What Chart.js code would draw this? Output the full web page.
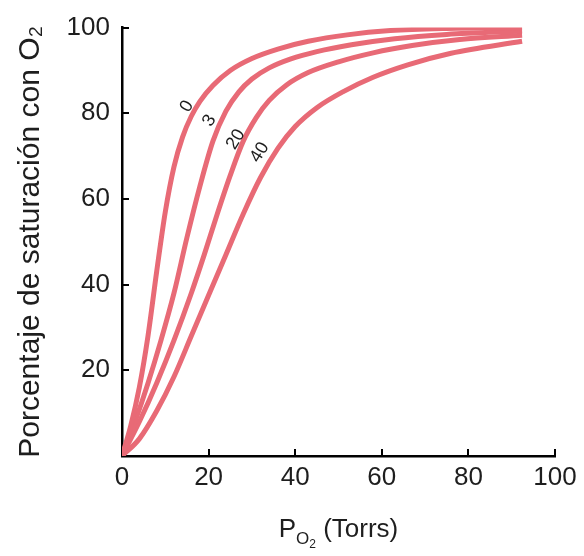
<!DOCTYPE html>
<html><head><meta charset="utf-8">
<script src="https://cdn.jsdelivr.net/npm/chart.js@4"></script>
<style>html,body{margin:0;padding:0;background:#fff}#wrap{width:584px;height:556px}</style>
</head><body><div id="wrap"><canvas id="c" width="584" height="556"></canvas></div>
<script>
// ---- data ----
const xTicks = [0, 20, 40, 60, 80, 100];
const yTicks = [20, 40, 60, 80, 100];
const seriesLabels = ['0', '3', '20', '40'];

const curve0X = [0, 2, 4, 6, 8, 10, 12, 14, 16, 18, 21, 25, 30, 36, 43, 52, 62, 75, 92.4];
const curve0Y = [0, 7, 16, 28, 43, 57, 67.5, 74.5, 79.3, 82.8, 86.5, 90, 92.8, 95, 96.8, 98.3, 99.3, 99.8, 100];

const curve3X = [0, 3, 6, 9, 12, 15, 18, 21, 24, 27, 30, 34, 39, 45, 53, 63, 75, 92.4];
const curve3Y = [0, 8, 17, 27, 38, 51, 63, 73.5, 80.5, 85, 88, 90.6, 92.7, 94.4, 96, 97.4, 98.4, 99.2];

const curve20X = [0, 4, 8, 12, 16, 19, 22, 25, 28, 31, 34, 38, 43, 50, 58, 67, 78, 92.4];
const curve20Y = [0, 8, 17, 27, 38, 47, 56.5, 65.5, 73.5, 79, 83, 86.6, 89.5, 92, 94.1, 95.8, 97.2, 98.2];

const curve40X = [0, 4, 8, 12, 16, 20, 24, 28, 32, 36, 40, 45, 51, 58, 66, 76, 92.4];
const curve40Y = [0, 4, 10.5, 18.5, 28, 37.5, 47, 56.5, 65, 71.8, 76.9, 81.3, 85, 88.4, 91.3, 94, 96.8];

// label anchors (data coordinates) for the curve labels
const labelAnchorX = [15.0, 20.2, 26.3, 31.8];
const labelAnchorY = [81.6, 78.3, 73.9, 70.9];

// ---- styling ----
const curveColor = 'rgb(232,106,118)';
const inkColor = '#1e1e1e';
const fontFamily = '"Liberation Sans", Arial, sans-serif';

function pts(xs, ys) { return xs.map((x, i) => ({x: x, y: ys[i]})); }
const curves = [[curve0X, curve0Y], [curve3X, curve3Y], [curve20X, curve20Y], [curve40X, curve40Y]];

const datasets = curves.map((c, i) => ({
  label: seriesLabels[i],
  data: pts(c[0], c[1]),
  borderColor: curveColor,
  backgroundColor: curveColor,
  borderWidth: 5,
  pointRadius: 0,
  fill: false,
  cubicInterpolationMode: 'monotone',
  borderCapStyle: 'butt'
}));

const decorPlugin = {
  id: 'decor',
  afterDraw(chart) {
    const ctx = chart.ctx;
    const xs = chart.scales.x, ys = chart.scales.y;
    const ca = chart.chartArea;
    ctx.save();
    // inward tick marks
    ctx.strokeStyle = '#000';
    ctx.lineWidth = 2;
    xTicks.forEach(v => {
      if (v === 0) return;
      const px = Math.round(xs.getPixelForValue(v));
      ctx.beginPath(); ctx.moveTo(px, ca.bottom); ctx.lineTo(px, ca.bottom - 7); ctx.stroke();
    });
    yTicks.forEach(v => {
      const py = Math.round(ys.getPixelForValue(v));
      ctx.beginPath(); ctx.moveTo(ca.left, py); ctx.lineTo(ca.left + 7, py); ctx.stroke();
    });
    // curve labels
    ctx.fillStyle = inkColor;
    ctx.font = '18px ' + fontFamily;
    ctx.textAlign = 'center';
    ctx.textBaseline = 'middle';
    seriesLabels.forEach((t, i) => {
      const px = xs.getPixelForValue(labelAnchorX[i]);
      const py = ys.getPixelForValue(labelAnchorY[i]);
      ctx.save();
      ctx.translate(px, py);
      ctx.rotate(-58 * Math.PI / 180);
      ctx.fillText(t, 0, 0);
      ctx.restore();
    });
    // x axis title with subscript
    const cx = (ca.left + ca.right) / 2;
    const base = 537;
    const big = '26px ' + fontFamily, mid = '17px ' + fontFamily, small = '12px ' + fontFamily;
    const parts = [['P', big, 0], ['O', mid, 7], ['2', small, 11], [' (Torrs)', big, 0]];
    let total = 0;
    parts.forEach(p => { ctx.font = p[1]; total += ctx.measureText(p[0]).width; });
    let x = cx - total / 2;
    ctx.textAlign = 'left';
    ctx.textBaseline = 'alphabetic';
    parts.forEach(p => { ctx.font = p[1]; ctx.fillText(p[0], x, base + p[2]); x += ctx.measureText(p[0]).width; });
    ctx.restore();
  }
};

new Chart(document.getElementById('c'), {
  type: 'line',
  data: { datasets: datasets },
  options: {
    responsive: false,
    animation: false,
    devicePixelRatio: 1,
    layout: { padding: { left: 0, right: 29, top: 23, bottom: 0 } },
    plugins: { legend: { display: false }, tooltip: { enabled: false } },
    scales: {
      x: {
        type: 'linear', min: 0, max: 100,
        afterBuildTicks: s => { s.ticks = xTicks.map(v => ({value: v})); },
        afterFit: s => { s.height = 100; },
        grid: { display: false, drawTicks: false },
        border: { display: true, color: '#000', width: 2.5 },
        ticks: { color: inkColor, font: { size: 26, family: fontFamily }, padding: 6, maxRotation: 0 }
      },
      y: {
        type: 'linear', min: 0, max: 100,
        afterBuildTicks: s => { s.ticks = [0].concat(yTicks).map(v => ({value: v})); },
        afterFit: s => { s.width = 122; },
        grid: { display: false, drawTicks: false },
        border: { display: true, color: '#000', width: 2.5 },
        ticks: { color: inkColor, font: { size: 26, family: fontFamily }, padding: 12,
                 callback: v => (v === 0 ? '' : String(v)) },
        title: { display: true, text: 'Porcentaje de saturación con O₂', color: inkColor,
                 font: { size: 30, family: fontFamily }, padding: { top: 13, bottom: 0 } }
      }
    }
  },
  plugins: [decorPlugin]
});
</script>
</body></html>
